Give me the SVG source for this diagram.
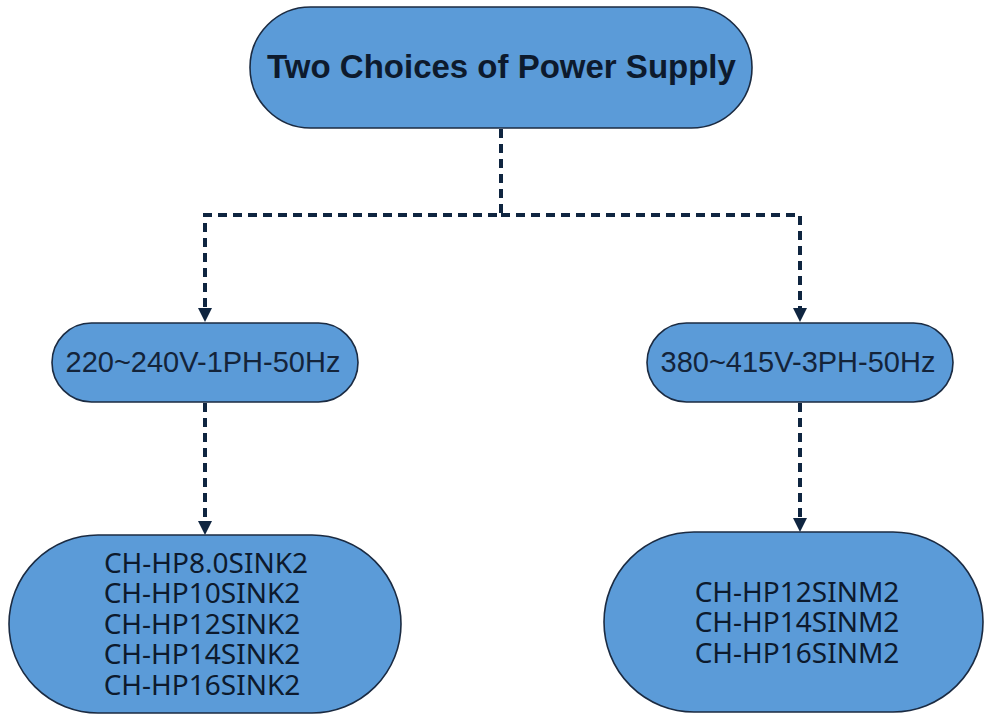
<svg xmlns="http://www.w3.org/2000/svg" width="985" height="715" viewBox="0 0 985 715">
<style>
.node{fill:#5b9bd8;stroke:#1b2b42;stroke-width:1.6}
.t1{font-family:"Liberation Sans",Arial,sans-serif;font-weight:bold;font-size:33px;fill:#0d1a2d;text-anchor:middle}
.t2{font-family:"Liberation Sans",Arial,sans-serif;font-size:29px;fill:#14243a;text-anchor:middle}
.t3{font-family:"Noto Sans","Open Sans",sans-serif;font-size:28px;fill:#0d1a2d;text-anchor:middle}
.con{fill:none;stroke:#0f2540;stroke-width:4;stroke-dasharray:9 6}
.ah{fill:#0f2540}
</style>
<g id="connectors">
<path class="con" d="M501,129 V215 H205 V310"/>
<path class="con" d="M501,215 H800 V310"/>
<path class="con" d="M205,403 V523"/>
<path class="con" d="M800,403 V520"/>
<polygon class="ah" points="198,308 212,308 205,322"/>
<polygon class="ah" points="793,308 807,308 800,322"/>
<polygon class="ah" points="198,521 212,521 205,535"/>
<polygon class="ah" points="793,518 807,518 800,532"/>
</g>
<g id="top">
<rect class="node" x="250" y="7" width="502" height="121" rx="60.5"/>
<text class="t1" x="501.5" y="78">Two Choices of Power Supply</text>
</g>
<g id="single">
<rect class="node" x="52" y="323" width="306" height="79" rx="39.5"/>
<text class="t2" x="203" y="372">220~240V-1PH-50Hz</text>
</g>
<g id="three">
<rect class="node" x="647" y="323" width="306" height="79" rx="39.5"/>
<text class="t2" x="798" y="372">380~415V-3PH-50Hz</text>
</g>
<g id="models1">
<rect class="node" x="9" y="535" width="392" height="178" rx="89"/>
<text class="t3" x="206" y="573">CH-HP8.0SINK2</text>
<text class="t3" x="202" y="603">CH-HP10SINK2</text>
<text class="t3" x="202" y="634">CH-HP12SINK2</text>
<text class="t3" x="202" y="664">CH-HP14SINK2</text>
<text class="t3" x="202" y="695">CH-HP16SINK2</text>
</g>
<g id="models3">
<rect class="node" x="604" y="532" width="379" height="180" rx="90"/>
<text class="t3" x="797" y="602">CH-HP12SINM2</text>
<text class="t3" x="797" y="632">CH-HP14SINM2</text>
<text class="t3" x="797" y="663">CH-HP16SINM2</text>
</g>
</svg>
